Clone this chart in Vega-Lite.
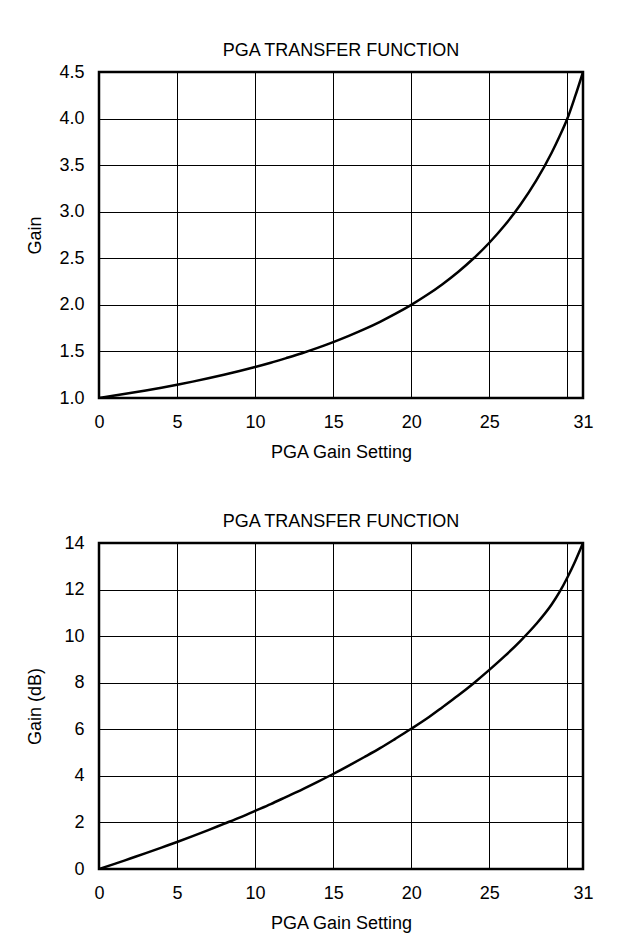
{
  "$schema": "https://vega.github.io/schema/vega-lite/v6.json",
  "background": "white",
  "padding": {"left": 25, "top": 40, "right": 20, "bottom": 10},
  "spacing": 48,
  "config": {
    "font": "Liberation Sans",
    "view": {"stroke": "black", "strokeWidth": 2.5},
    "axis": {
      "grid": true, "gridColor": "black", "gridOpacity": 1, "gridWidth": 1,
      "domain": false, "ticks": false,
      "labelFont": "Liberation Sans", "labelFontSize": 18, "labelColor": "black",
      "titleFont": "Liberation Sans", "titleFontSize": 18, "titleFontWeight": "normal", "titleColor": "black"
    },
    "title": {"font": "Liberation Sans", "fontSize": 18, "fontWeight": "normal", "color": "black", "offset": 3}
  },
  "datasets": {
    "pga": [
      {"setting": 0, "gain": 1.000, "gain_db": 0.00},
      {"setting": 1, "gain": 1.026, "gain_db": 0.22},
      {"setting": 2, "gain": 1.053, "gain_db": 0.45},
      {"setting": 3, "gain": 1.081, "gain_db": 0.68},
      {"setting": 4, "gain": 1.111, "gain_db": 0.92},
      {"setting": 5, "gain": 1.143, "gain_db": 1.16},
      {"setting": 6, "gain": 1.176, "gain_db": 1.41},
      {"setting": 7, "gain": 1.212, "gain_db": 1.67},
      {"setting": 8, "gain": 1.250, "gain_db": 1.94},
      {"setting": 9, "gain": 1.290, "gain_db": 2.21},
      {"setting": 10, "gain": 1.333, "gain_db": 2.50},
      {"setting": 11, "gain": 1.379, "gain_db": 2.79},
      {"setting": 12, "gain": 1.429, "gain_db": 3.10},
      {"setting": 13, "gain": 1.481, "gain_db": 3.41},
      {"setting": 14, "gain": 1.538, "gain_db": 3.74},
      {"setting": 15, "gain": 1.600, "gain_db": 4.08},
      {"setting": 16, "gain": 1.667, "gain_db": 4.44},
      {"setting": 17, "gain": 1.739, "gain_db": 4.81},
      {"setting": 18, "gain": 1.818, "gain_db": 5.19},
      {"setting": 19, "gain": 1.905, "gain_db": 5.60},
      {"setting": 20, "gain": 2.000, "gain_db": 6.02},
      {"setting": 21, "gain": 2.105, "gain_db": 6.46},
      {"setting": 22, "gain": 2.222, "gain_db": 6.95},
      {"setting": 23, "gain": 2.353, "gain_db": 7.45},
      {"setting": 24, "gain": 2.500, "gain_db": 7.98},
      {"setting": 25, "gain": 2.667, "gain_db": 8.55},
      {"setting": 26, "gain": 2.857, "gain_db": 9.15},
      {"setting": 27, "gain": 3.077, "gain_db": 9.80},
      {"setting": 28, "gain": 3.333, "gain_db": 10.52},
      {"setting": 29, "gain": 3.636, "gain_db": 11.37},
      {"setting": 29.5, "gain": 3.810, "gain_db": 11.90},
      {"setting": 30, "gain": 4.000, "gain_db": 12.52},
      {"setting": 30.5, "gain": 4.240, "gain_db": 13.22},
      {"setting": 31, "gain": 4.500, "gain_db": 14.00}
    ]
  },
  "vconcat": [
    {
      "title": "PGA TRANSFER FUNCTION",
      "width": 484,
      "height": 326,
      "data": {"name": "pga"},
      "mark": {"type": "line", "color": "black", "strokeWidth": 2.5, "interpolate": "monotone", "clip": true},
      "encoding": {
        "x": {
          "field": "setting", "type": "quantitative",
          "scale": {"domain": [0, 31], "nice": false, "zero": false},
          "axis": {"values": [0, 5, 10, 15, 20, 25, 30, 31], "labelExpr": "datum.value == 30 ? '' : datum.label", "labelFlush": false, "labelPadding": 15, "titlePadding": 12, "title": "PGA Gain Setting"}
        },
        "y": {
          "field": "gain", "type": "quantitative",
          "scale": {"domain": [1, 4.5], "nice": false, "zero": false},
          "axis": {"values": [1, 1.5, 2, 2.5, 3, 3.5, 4, 4.5], "format": ".1f", "labelPadding": 15, "titlePadding": 14, "title": "Gain"}
        }
      }
    },
    {
      "title": "PGA TRANSFER FUNCTION",
      "width": 484,
      "height": 326,
      "data": {"name": "pga"},
      "mark": {"type": "line", "color": "black", "strokeWidth": 2.5, "interpolate": "monotone", "clip": true},
      "encoding": {
        "x": {
          "field": "setting", "type": "quantitative",
          "scale": {"domain": [0, 31], "nice": false, "zero": false},
          "axis": {"values": [0, 5, 10, 15, 20, 25, 30, 31], "labelExpr": "datum.value == 30 ? '' : datum.label", "labelFlush": false, "labelPadding": 15, "titlePadding": 12, "title": "PGA Gain Setting"}
        },
        "y": {
          "field": "gain_db", "type": "quantitative",
          "scale": {"domain": [0, 14], "nice": false, "zero": false},
          "axis": {"values": [0, 2, 4, 6, 8, 10, 12, 14], "format": "d", "labelPadding": 15, "titlePadding": 19, "title": "Gain (dB)"}
        }
      }
    }
  ]
}
